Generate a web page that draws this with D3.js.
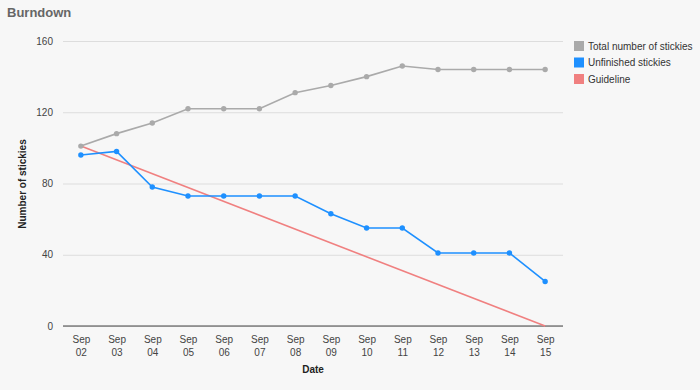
<!DOCTYPE html>
<html><head><meta charset="utf-8">
<script src="https://cdn.jsdelivr.net/npm/d3@7"></script>
<style>body{margin:0;background:#f7f7f7;}svg{display:block;font-family:Arial,"Liberation Sans",sans-serif;}</style>
</head><body><svg id="c" width="700" height="390"></svg>
<script>
const days = ["02","03","04","05","06","07","08","09","10","11","12","13","14","15"];
const totalStickies = [101,108,114,122,122,122,131,135,140,146,144,144,144,144];
const unfinished = [96,98,78,73,73,73,73,63,55,55,41,41,41,25];
const guideline = [101,0];
const yTicks = [0,40,80,120,160];
const seriesNames = ["Total number of stickies","Unfinished stickies","Guideline"];
const colors = ["#aaaaaa","#1e90ff","#f08080"];

const svg = d3.select("#c");
svg.append("rect").attr("width",700).attr("height",390).attr("fill","#f7f7f7");
const L=63,R=563,T=41,B=326;
const x = d3.scalePoint().domain(days).range([L,R]).padding(0.5);
const y = d3.scaleLinear().domain([0,160]).range([B,T]);

svg.append("text").attr("x",7).attr("y",17).attr("font-size",13).attr("font-weight","bold").attr("fill","#666").text("Burndown");

const ga = svg.append("g").attr("transform",`translate(${L},0)`)
 .call(d3.axisLeft(y).tickValues(yTicks).tickSize(-(R-L)).tickPadding(10));
ga.select(".domain").remove();
ga.selectAll(".tick line").attr("stroke","#dddddd");
ga.selectAll(".tick text").attr("font-size",10).attr("fill","#444");
svg.append("line").attr("x1",L).attr("x2",R).attr("y1",B).attr("y2",B).attr("stroke","#444");

const gx = svg.append("g").attr("transform",`translate(0,${B})`).call(d3.axisBottom(x).tickSize(0));
gx.select(".domain").remove();
gx.selectAll(".tick text").remove();
gx.selectAll(".tick").each(function(d){
  const t=d3.select(this).append("text").attr("fill","#444").attr("font-size",10).attr("text-anchor","middle");
  t.append("tspan").attr("x",0).attr("y",16.5).text("Sep");
  t.append("tspan").attr("x",0).attr("y",30).text(d);
});

svg.append("text").attr("x",313).attr("y",373).attr("text-anchor","middle").attr("font-size",10).attr("font-weight","bold").attr("fill","#222").text("Date");
svg.append("text").attr("transform","translate(26,184) rotate(-90)").attr("text-anchor","middle").attr("font-size",10).attr("font-weight","bold").attr("fill","#222").text("Number of stickies");

const line = d3.line().x((d,i)=>x(days[i])).y(d=>y(d));
svg.append("path").attr("d",d3.line().x(d=>x(d[0])).y(d=>y(d[1]))([[days[0],guideline[0]],[days[days.length-1],guideline[1]]]))
  .attr("fill","none").attr("stroke",colors[2]).attr("stroke-width",1.6);
[[totalStickies,colors[0]],[unfinished,colors[1]]].forEach(([data,c])=>{
  svg.append("path").attr("d",line(data)).attr("fill","none").attr("stroke",c).attr("stroke-width",1.6);
  svg.selectAll(null).data(data).enter().append("circle").attr("cx",(d,i)=>x(days[i])).attr("cy",d=>y(d)).attr("r",2.7).attr("fill",c);
});

const lg = svg.append("g");
seriesNames.forEach((n,i)=>{
  lg.append("rect").attr("x",574).attr("y",41+i*16.5).attr("width",10).attr("height",10).attr("fill",colors[i]);
  lg.append("text").attr("x",588).attr("y",49.5+i*16.5).attr("font-size",10).attr("fill","#333").text(n);
});
</script></body></html>
